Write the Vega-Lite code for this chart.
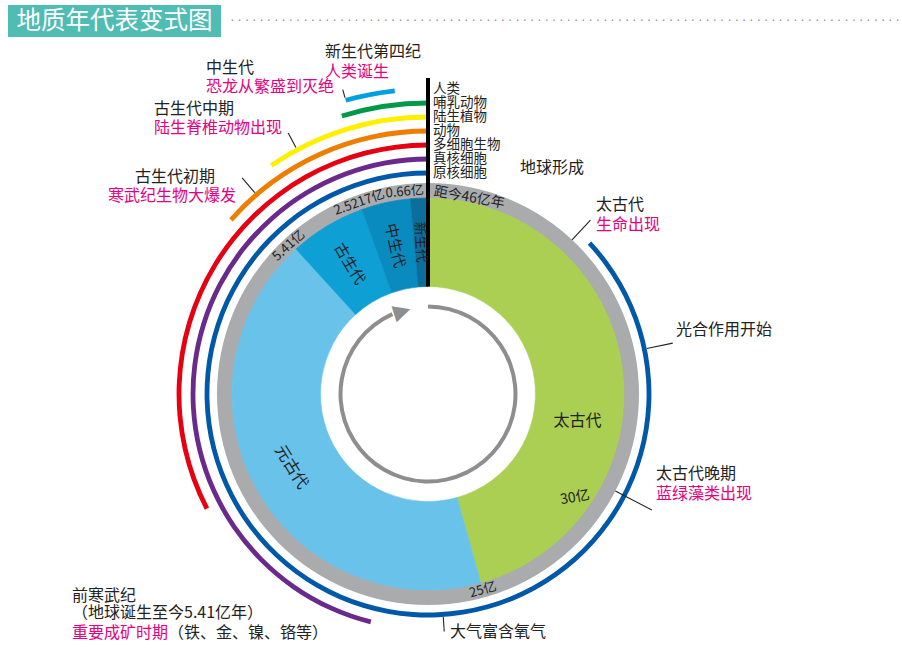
{
  "$schema": "https://vega.github.io/schema/vega-lite/v6.json",
  "background": "white",
  "padding": {"left": 8, "top": 5, "right": 0, "bottom": 0},
  "config": {"view": {"stroke": null}, "text": {"font": "Noto Sans CJK SC", "color": "#222222"}},
  "datasets": {
    "ring": [{"from": 46, "to": 0}],
    "eras": [
      {"era": "太古代", "from": 46, "to": 25},
      {"era": "元古代", "from": 25, "to": 5.41},
      {"era": "古生代", "from": 5.41, "to": 2.5217},
      {"era": "中生代", "from": 2.5217, "to": 0.66},
      {"era": "新生代", "from": 0.66, "to": 0}
    ],
    "eraLabels": [
      {"era": "太古代", "ago": 33.2},
      {"era": "元古代", "ago": 15.1},
      {"era": "古生代", "ago": 3.97},
      {"era": "中生代", "ago": 1.6},
      {"era": "新生代", "ago": 0.38}
    ],
    "life": [
      {"name": "原核细胞", "from": 40, "to": 0},
      {"name": "真核细胞", "from": 21.2, "to": 0},
      {"name": "多细胞生物", "from": 15, "to": 0},
      {"name": "动物", "from": 6.2, "to": 0},
      {"name": "陆生植物", "from": 4.4, "to": 0},
      {"name": "哺乳动物", "from": 2.2, "to": 0},
      {"name": "恐龙", "from": 2.0, "to": 0.8}
    ],
    "lists": [{"ago": 0, "lines": ["人类", "哺乳动物", "陆生植物", "动物", "多细胞生物", "真核细胞", "原核细胞"]}],
    "axis": [{"ago": 0}],
    "cycle": [{"from": 46, "to": 3.07}],
    "arrowhead": [{"ago": 2.24, "glyph": "▶"}],
    "ticks": [
      {"t": "距今46亿年", "ago": 46},
      {"t": "0.66亿", "ago": 0.66},
      {"t": "2.5217亿", "ago": 2.5217},
      {"t": "5.41亿", "ago": 5.41},
      {"t": "25亿", "ago": 25},
      {"t": "30亿", "ago": 30}
    ],
    "notes": [
      {"id": "quaternary", "ago": 0, "title": "新生代第四纪", "desc": "人类诞生"},
      {"id": "mesozoic", "ago": 2.0, "title": "中生代", "desc": "恐龙从繁盛到灭绝"},
      {"id": "devonian", "ago": 3.6, "title": "古生代中期", "desc": "陆生脊椎动物出现"},
      {"id": "cambrian", "ago": 5.2, "title": "古生代初期", "desc": "寒武纪生物大爆发"},
      {"id": "earth", "ago": 46, "title": "地球形成"},
      {"id": "life", "ago": 40.5, "title": "太古代", "desc": "生命出现"},
      {"id": "photo", "ago": 36, "title": "光合作用开始"},
      {"id": "algae", "ago": 31, "title": "太古代晚期", "desc": "蓝绿藻类出现"},
      {"id": "oxygen", "ago": 23.5, "title": "大气富含氧气"},
      {"id": "precambrian", "ago": 23, "title": "前寒武纪", "sub": "（地球诞生至今5.41亿年）", "desc": "重要成矿时期", "note": "（铁、金、镍、铬等）"}
    ]
  },
  "vconcat": [
    {
      "hconcat": [
        {
          "width": 213, "height": 32,
          "view": {"fill": "#4FBDB3", "stroke": null},
          "data": {"values": [{"t": "地质年代表变式图"}]},
          "mark": {"type": "text", "color": "white", "fontSize": 24.5, "align": "center", "baseline": "middle", "dy": 1},
          "encoding": {"text": {"field": "t"}}
        },
        {
          "width": 670, "height": 32,
          "data": {"values": [{"t": "· · · · · · · · · · · · · · · · · · · · · · · · · · · · · · · · · · · · · · · · · · · · · · · · · · · · · · · · · · · · · · · · · · · · · · · · · · · · · · · · · · · · · · · · · · · ·"}]},
          "mark": {"type": "text", "font": "DejaVu Sans", "fontSize": 11.5, "color": "#888888", "align": "center", "baseline": "middle", "dy": 1},
          "encoding": {"text": {"field": "t"}}
        }
      ],
      "spacing": 9
    },
    {
      "width": 840, "height": 514,
      "layer": [
        {"data": {"name": "ring"}, "mark": {"type": "arc", "radius": 211, "radius2": 195.5, "color": "#A9ABAD"},
         "encoding": {"theta": {"field": "from", "type": "quantitative", "stack": null, "scale": {"domain": [46, 0], "range": [0, 6.283185307179586]}}, "theta2": {"field": "to"}}},
        {"data": {"name": "eras"}, "mark": {"type": "arc", "radius": 196, "radius2": 107.5, "strokeWidth": 0.6},
         "encoding": {
           "theta": {"field": "from", "type": "quantitative", "stack": null, "scale": {"domain": [46, 0], "range": [0, 6.283185307179586]}},
           "theta2": {"field": "to"},
           "color": {"field": "era", "type": "nominal", "legend": null, "scale": {"domain": ["太古代", "元古代", "古生代", "中生代", "新生代"], "range": ["#AACF52", "#68C2EA", "#0EA0D5", "#0A8BC0", "#0B6E9B"]}},
           "stroke": {"field": "era", "type": "nominal", "legend": null, "scale": {"domain": ["太古代", "元古代", "古生代", "中生代", "新生代"], "range": ["#AACF52", "#68C2EA", "#0EA0D5", "#0A8BC0", "#0B6E9B"]}}
         }},
        {"data": {"name": "cycle"}, "mark": {"type": "arc", "radius": 89.5, "radius2": 85.5, "color": "#8E8E8E"},
         "encoding": {"theta": {"field": "from", "type": "quantitative", "stack": null, "scale": {"domain": [46, 0], "range": [0, 6.283185307179586]}}, "theta2": {"field": "to"}}},
        {"data": {"name": "arrowhead"}, "mark": {"type": "text", "radius": 87.5, "angle": 342.5, "font": "DejaVu Sans", "fontSize": 22, "color": "#8E8E8E", "align": "center", "baseline": "middle"},
         "encoding": {"theta": {"field": "ago", "type": "quantitative", "scale": {"domain": [46, 0], "range": [0, 6.283185307179586]}}, "text": {"field": "glyph"}}},

        {"data": {"name": "life"}, "transform": [{"filter": {"field": "name", "equal": "原核细胞"}}], "mark": {"type": "arc", "radius": 223.4, "radius2": 218.6, "color": "#0058A8"},
         "encoding": {"theta": {"field": "from", "type": "quantitative", "stack": null, "scale": {"domain": [46, 0], "range": [0, 6.283185307179586]}}, "theta2": {"field": "to"}}},
        {"data": {"name": "life"}, "transform": [{"filter": {"field": "name", "equal": "真核细胞"}}], "mark": {"type": "arc", "radius": 237.4, "radius2": 232.6, "color": "#6A2A8C"},
         "encoding": {"theta": {"field": "from", "type": "quantitative", "stack": null, "scale": {"domain": [46, 0], "range": [0, 6.283185307179586]}}, "theta2": {"field": "to"}}},
        {"data": {"name": "life"}, "transform": [{"filter": {"field": "name", "equal": "多细胞生物"}}], "mark": {"type": "arc", "radius": 251.4, "radius2": 246.6, "color": "#E50012"},
         "encoding": {"theta": {"field": "from", "type": "quantitative", "stack": null, "scale": {"domain": [46, 0], "range": [0, 6.283185307179586]}}, "theta2": {"field": "to"}}},
        {"data": {"name": "life"}, "transform": [{"filter": {"field": "name", "equal": "动物"}}], "mark": {"type": "arc", "radius": 265.4, "radius2": 260.6, "color": "#EF7D00"},
         "encoding": {"theta": {"field": "from", "type": "quantitative", "stack": null, "scale": {"domain": [46, 0], "range": [0, 6.283185307179586]}}, "theta2": {"field": "to"}}},
        {"data": {"name": "life"}, "transform": [{"filter": {"field": "name", "equal": "陆生植物"}}], "mark": {"type": "arc", "radius": 279.4, "radius2": 274.6, "color": "#FFF000"},
         "encoding": {"theta": {"field": "from", "type": "quantitative", "stack": null, "scale": {"domain": [46, 0], "range": [0, 6.283185307179586]}}, "theta2": {"field": "to"}}},
        {"data": {"name": "life"}, "transform": [{"filter": {"field": "name", "equal": "哺乳动物"}}], "mark": {"type": "arc", "radius": 293.4, "radius2": 288.6, "color": "#00994A"},
         "encoding": {"theta": {"field": "from", "type": "quantitative", "stack": null, "scale": {"domain": [46, 0], "range": [0, 6.283185307179586]}}, "theta2": {"field": "to"}}},
        {"data": {"name": "life"}, "transform": [{"filter": {"field": "name", "equal": "恐龙"}}], "mark": {"type": "arc", "radius": 307.4, "radius2": 302.6, "color": "#00A0E0"},
         "encoding": {"theta": {"field": "from", "type": "quantitative", "stack": null, "scale": {"domain": [46, 0], "range": [0, 6.283185307179586]}}, "theta2": {"field": "to"}}},

        {"data": {"name": "axis"}, "mark": {"type": "arc", "radius": 316, "radius2": 107.5, "fill": "black", "stroke": "black", "strokeWidth": 4},
         "encoding": {"theta": {"field": "ago", "type": "quantitative", "stack": null, "scale": {"domain": [46, 0], "range": [0, 6.283185307179586]}}, "theta2": {"field": "ago"}}},

        {"data": {"name": "notes"}, "transform": [{"filter": {"field": "id", "equal": "mesozoic"}}], "mark": {"type": "arc", "radius": 316, "radius2": 307.7, "stroke": "#222222", "strokeWidth": 1.1},
         "encoding": {"theta": {"field": "ago", "type": "quantitative", "stack": null, "scale": {"domain": [46, 0], "range": [0, 6.283185307179586]}}, "theta2": {"field": "ago"}}},
        {"data": {"name": "notes"}, "transform": [{"filter": {"field": "id", "equal": "devonian"}}], "mark": {"type": "arc", "radius": 296, "radius2": 279.7, "stroke": "#222222", "strokeWidth": 1.1},
         "encoding": {"theta": {"field": "ago", "type": "quantitative", "stack": null, "scale": {"domain": [46, 0], "range": [0, 6.283185307179586]}}, "theta2": {"field": "ago"}}},
        {"data": {"name": "notes"}, "transform": [{"filter": {"field": "id", "equal": "cambrian"}}], "mark": {"type": "arc", "radius": 285, "radius2": 265.7, "stroke": "#222222", "strokeWidth": 1.1},
         "encoding": {"theta": {"field": "ago", "type": "quantitative", "stack": null, "scale": {"domain": [46, 0], "range": [0, 6.283185307179586]}}, "theta2": {"field": "ago"}}},
        {"data": {"name": "notes"}, "transform": [{"filter": {"field": "id", "equal": "life"}}], "mark": {"type": "arc", "radius": 238, "radius2": 211, "stroke": "#222222", "strokeWidth": 1.1},
         "encoding": {"theta": {"field": "ago", "type": "quantitative", "stack": null, "scale": {"domain": [46, 0], "range": [0, 6.283185307179586]}}, "theta2": {"field": "ago"}}},
        {"data": {"name": "notes"}, "transform": [{"filter": {"field": "id", "equal": "photo"}}], "mark": {"type": "arc", "radius": 250, "radius2": 223.5, "stroke": "#222222", "strokeWidth": 1.1},
         "encoding": {"theta": {"field": "ago", "type": "quantitative", "stack": null, "scale": {"domain": [46, 0], "range": [0, 6.283185307179586]}}, "theta2": {"field": "ago"}}},
        {"data": {"name": "notes"}, "transform": [{"filter": {"field": "id", "equal": "algae"}}], "mark": {"type": "arc", "radius": 252, "radius2": 211, "stroke": "#222222", "strokeWidth": 1.1},
         "encoding": {"theta": {"field": "ago", "type": "quantitative", "stack": null, "scale": {"domain": [46, 0], "range": [0, 6.283185307179586]}}, "theta2": {"field": "ago"}}},
        {"data": {"name": "notes"}, "transform": [{"filter": {"field": "id", "equal": "oxygen"}}], "mark": {"type": "arc", "radius": 238, "radius2": 223.5, "stroke": "#222222", "strokeWidth": 1.1},
         "encoding": {"theta": {"field": "ago", "type": "quantitative", "stack": null, "scale": {"domain": [46, 0], "range": [0, 6.283185307179586]}}, "theta2": {"field": "ago"}}},

        {"data": {"name": "eraLabels"}, "transform": [{"filter": {"field": "era", "equal": "太古代"}}], "mark": {"type": "text", "radius": 152, "angle": 0, "fontSize": 16, "align": "center", "baseline": "middle"},
         "encoding": {"theta": {"field": "ago", "type": "quantitative", "scale": {"domain": [46, 0], "range": [0, 6.283185307179586]}}, "text": {"field": "era"}}},
        {"data": {"name": "eraLabels"}, "transform": [{"filter": {"field": "era", "equal": "元古代"}}], "mark": {"type": "text", "radius": 155, "angle": 58, "fontSize": 16, "align": "center", "baseline": "middle"},
         "encoding": {"theta": {"field": "ago", "type": "quantitative", "scale": {"domain": [46, 0], "range": [0, 6.283185307179586]}}, "text": {"field": "era"}}},
        {"data": {"name": "eraLabels"}, "transform": [{"filter": {"field": "era", "equal": "古生代"}}], "mark": {"type": "text", "radius": 152, "angle": 59, "fontSize": 15, "align": "center", "baseline": "middle"},
         "encoding": {"theta": {"field": "ago", "type": "quantitative", "scale": {"domain": [46, 0], "range": [0, 6.283185307179586]}}, "text": {"field": "era"}}},
        {"data": {"name": "eraLabels"}, "transform": [{"filter": {"field": "era", "equal": "中生代"}}], "mark": {"type": "text", "radius": 152, "angle": 77.5, "fontSize": 15, "align": "center", "baseline": "middle"},
         "encoding": {"theta": {"field": "ago", "type": "quantitative", "scale": {"domain": [46, 0], "range": [0, 6.283185307179586]}}, "text": {"field": "era"}}},
        {"data": {"name": "eraLabels"}, "transform": [{"filter": {"field": "era", "equal": "新生代"}}], "mark": {"type": "text", "radius": 152, "angle": 87, "fontSize": 13.5, "align": "center", "baseline": "middle"},
         "encoding": {"theta": {"field": "ago", "type": "quantitative", "scale": {"domain": [46, 0], "range": [0, 6.283185307179586]}}, "text": {"field": "era"}}},

        {"data": {"name": "ticks"}, "transform": [{"filter": {"field": "t", "equal": "距今46亿年"}}], "mark": {"type": "text", "radius": 203.5, "angle": 10, "dx": 6, "fontSize": 14, "align": "left", "baseline": "middle"},
         "encoding": {"theta": {"field": "ago", "type": "quantitative", "scale": {"domain": [46, 0], "range": [0, 6.283185307179586]}}, "text": {"field": "t"}}},
        {"data": {"name": "ticks"}, "transform": [{"filter": {"field": "t", "equal": "0.66亿"}}], "mark": {"type": "text", "radius": 203.5, "angle": -5.2, "dx": -5, "fontSize": 13, "align": "center", "baseline": "middle"},
         "encoding": {"theta": {"field": "ago", "type": "quantitative", "scale": {"domain": [46, 0], "range": [0, 6.283185307179586]}}, "text": {"field": "t"}}},
        {"data": {"name": "ticks"}, "transform": [{"filter": {"field": "t", "equal": "2.5217亿"}}], "mark": {"type": "text", "radius": 203.5, "angle": -19.7, "fontSize": 13, "align": "center", "baseline": "middle"},
         "encoding": {"theta": {"field": "ago", "type": "quantitative", "scale": {"domain": [46, 0], "range": [0, 6.283185307179586]}}, "text": {"field": "t"}}},
        {"data": {"name": "ticks"}, "transform": [{"filter": {"field": "t", "equal": "5.41亿"}}], "mark": {"type": "text", "radius": 203.5, "angle": -42.3, "dx": -3, "fontSize": 13, "align": "center", "baseline": "middle"},
         "encoding": {"theta": {"field": "ago", "type": "quantitative", "scale": {"domain": [46, 0], "range": [0, 6.283185307179586]}}, "text": {"field": "t"}}},
        {"data": {"name": "ticks"}, "transform": [{"filter": {"field": "t", "equal": "25亿"}}], "mark": {"type": "text", "radius": 203.5, "angle": -15.7, "fontSize": 13, "align": "center", "baseline": "middle"},
         "encoding": {"theta": {"field": "ago", "type": "quantitative", "scale": {"domain": [46, 0], "range": [0, 6.283185307179586]}}, "text": {"field": "t"}}},
        {"data": {"name": "ticks"}, "transform": [{"filter": {"field": "t", "equal": "30亿"}}], "mark": {"type": "text", "radius": 180, "angle": -10, "fontSize": 14, "align": "center", "baseline": "middle"},
         "encoding": {"theta": {"field": "ago", "type": "quantitative", "scale": {"domain": [46, 0], "range": [0, 6.283185307179586]}}, "text": {"field": "t"}}},

        {"data": {"name": "lists"}, "mark": {"type": "text", "radius": 305, "dx": 5, "fontSize": 13.5, "lineHeight": 14, "align": "left", "baseline": "middle"},
         "encoding": {"theta": {"field": "ago", "type": "quantitative", "scale": {"domain": [46, 0], "range": [0, 6.283185307179586]}}, "text": {"field": "lines"}}},

        {"data": {"name": "notes"}, "transform": [{"filter": {"field": "id", "equal": "quaternary"}}], "mark": {"type": "text", "radius": 342, "dx": -103, "fontSize": 16, "align": "left", "baseline": "middle"},
         "encoding": {"theta": {"field": "ago", "type": "quantitative", "scale": {"domain": [46, 0], "range": [0, 6.283185307179586]}}, "text": {"field": "title"}}},
        {"data": {"name": "notes"}, "transform": [{"filter": {"field": "id", "equal": "quaternary"}}], "mark": {"type": "text", "radius": 322, "dx": -103, "fontSize": 16, "align": "left", "baseline": "middle", "color": "#E4007F"},
         "encoding": {"theta": {"field": "ago", "type": "quantitative", "scale": {"domain": [46, 0], "range": [0, 6.283185307179586]}}, "text": {"field": "desc"}}},

        {"data": {"name": "notes"}, "transform": [{"filter": {"field": "id", "equal": "mesozoic"}}], "mark": {"type": "text", "radius": 318, "dx": -136.2, "dy": -19.8, "fontSize": 16, "align": "left", "baseline": "middle"},
         "encoding": {"theta": {"field": "ago", "type": "quantitative", "scale": {"domain": [46, 0], "range": [0, 6.283185307179586]}}, "text": {"field": "title"}}},
        {"data": {"name": "notes"}, "transform": [{"filter": {"field": "id", "equal": "mesozoic"}}], "mark": {"type": "text", "radius": 318, "dx": -8.2, "dy": -0.8, "fontSize": 16, "align": "right", "baseline": "middle", "color": "#E4007F"},
         "encoding": {"theta": {"field": "ago", "type": "quantitative", "scale": {"domain": [46, 0], "range": [0, 6.283185307179586]}}, "text": {"field": "desc"}}},

        {"data": {"name": "notes"}, "transform": [{"filter": {"field": "id", "equal": "devonian"}}], "mark": {"type": "text", "radius": 298, "dx": -133.3, "dy": -22.3, "fontSize": 16, "align": "left", "baseline": "middle"},
         "encoding": {"theta": {"field": "ago", "type": "quantitative", "scale": {"domain": [46, 0], "range": [0, 6.283185307179586]}}, "text": {"field": "title"}}},
        {"data": {"name": "notes"}, "transform": [{"filter": {"field": "id", "equal": "devonian"}}], "mark": {"type": "text", "radius": 298, "dx": -5.3, "dy": -3.3, "fontSize": 16, "align": "right", "baseline": "middle", "color": "#E4007F"},
         "encoding": {"theta": {"field": "ago", "type": "quantitative", "scale": {"domain": [46, 0], "range": [0, 6.283185307179586]}}, "text": {"field": "desc"}}},

        {"data": {"name": "notes"}, "transform": [{"filter": {"field": "id", "equal": "cambrian"}}], "mark": {"type": "text", "radius": 285, "dx": -107.1, "dy": -1, "fontSize": 16, "align": "left", "baseline": "middle"},
         "encoding": {"theta": {"field": "ago", "type": "quantitative", "scale": {"domain": [46, 0], "range": [0, 6.283185307179586]}}, "text": {"field": "title"}}},
        {"data": {"name": "notes"}, "transform": [{"filter": {"field": "id", "equal": "cambrian"}}], "mark": {"type": "text", "radius": 285, "dx": -6.1, "dy": 18, "fontSize": 16, "align": "right", "baseline": "middle", "color": "#E4007F"},
         "encoding": {"theta": {"field": "ago", "type": "quantitative", "scale": {"domain": [46, 0], "range": [0, 6.283185307179586]}}, "text": {"field": "desc"}}},

        {"data": {"name": "notes"}, "transform": [{"filter": {"field": "id", "equal": "earth"}}], "mark": {"type": "text", "radius": 211, "dx": 92, "dy": -15, "fontSize": 16, "align": "left", "baseline": "middle"},
         "encoding": {"theta": {"field": "ago", "type": "quantitative", "scale": {"domain": [46, 0], "range": [0, 6.283185307179586]}}, "text": {"field": "title"}}},

        {"data": {"name": "notes"}, "transform": [{"filter": {"field": "id", "equal": "life"}}], "mark": {"type": "text", "radius": 238, "dx": 5.6, "dy": -15, "fontSize": 16, "align": "left", "baseline": "middle"},
         "encoding": {"theta": {"field": "ago", "type": "quantitative", "scale": {"domain": [46, 0], "range": [0, 6.283185307179586]}}, "text": {"field": "title"}}},
        {"data": {"name": "notes"}, "transform": [{"filter": {"field": "id", "equal": "life"}}], "mark": {"type": "text", "radius": 238, "dx": 5.6, "dy": 5, "fontSize": 16, "align": "left", "baseline": "middle", "color": "#E4007F"},
         "encoding": {"theta": {"field": "ago", "type": "quantitative", "scale": {"domain": [46, 0], "range": [0, 6.283185307179586]}}, "text": {"field": "desc"}}},

        {"data": {"name": "notes"}, "transform": [{"filter": {"field": "id", "equal": "photo"}}], "mark": {"type": "text", "radius": 250, "dx": 3.2, "dy": -13.1, "fontSize": 16, "align": "left", "baseline": "middle"},
         "encoding": {"theta": {"field": "ago", "type": "quantitative", "scale": {"domain": [46, 0], "range": [0, 6.283185307179586]}}, "text": {"field": "title"}}},

        {"data": {"name": "notes"}, "transform": [{"filter": {"field": "id", "equal": "algae"}}], "mark": {"type": "text", "radius": 252, "dx": 4.2, "dy": -36, "fontSize": 16, "align": "left", "baseline": "middle"},
         "encoding": {"theta": {"field": "ago", "type": "quantitative", "scale": {"domain": [46, 0], "range": [0, 6.283185307179586]}}, "text": {"field": "title"}}},
        {"data": {"name": "notes"}, "transform": [{"filter": {"field": "id", "equal": "algae"}}], "mark": {"type": "text", "radius": 252, "dx": 4.2, "dy": -16, "fontSize": 16, "align": "left", "baseline": "middle", "color": "#E4007F"},
         "encoding": {"theta": {"field": "ago", "type": "quantitative", "scale": {"domain": [46, 0], "range": [0, 6.283185307179586]}}, "text": {"field": "desc"}}},

        {"data": {"name": "notes"}, "transform": [{"filter": {"field": "id", "equal": "oxygen"}}], "mark": {"type": "text", "radius": 238, "dx": 5.8, "dy": 0.5, "fontSize": 16, "align": "left", "baseline": "middle"},
         "encoding": {"theta": {"field": "ago", "type": "quantitative", "scale": {"domain": [46, 0], "range": [0, 6.283185307179586]}}, "text": {"field": "title"}}},

        {"data": {"name": "notes"}, "transform": [{"filter": {"field": "id", "equal": "precambrian"}}], "mark": {"type": "text", "radius": 220, "dx": -356, "dy": -18, "fontSize": 16, "align": "left", "baseline": "middle"},
         "encoding": {"theta": {"field": "ago", "type": "quantitative", "scale": {"domain": [46, 0], "range": [0, 6.283185307179586]}}, "text": {"field": "title"}}},
        {"data": {"name": "notes"}, "transform": [{"filter": {"field": "id", "equal": "precambrian"}}], "mark": {"type": "text", "radius": 220, "dx": -356, "dy": -1, "fontSize": 16, "align": "left", "baseline": "middle"},
         "encoding": {"theta": {"field": "ago", "type": "quantitative", "scale": {"domain": [46, 0], "range": [0, 6.283185307179586]}}, "text": {"field": "sub"}}},
        {"data": {"name": "notes"}, "transform": [{"filter": {"field": "id", "equal": "precambrian"}}], "mark": {"type": "text", "radius": 220, "dx": -356, "dy": 19, "fontSize": 16, "align": "left", "baseline": "middle", "color": "#E4007F"},
         "encoding": {"theta": {"field": "ago", "type": "quantitative", "scale": {"domain": [46, 0], "range": [0, 6.283185307179586]}}, "text": {"field": "desc"}}},
        {"data": {"name": "notes"}, "transform": [{"filter": {"field": "id", "equal": "precambrian"}}], "mark": {"type": "text", "radius": 220, "dx": -260, "dy": 19, "fontSize": 16, "align": "left", "baseline": "middle"},
         "encoding": {"theta": {"field": "ago", "type": "quantitative", "scale": {"domain": [46, 0], "range": [0, 6.283185307179586]}}, "text": {"field": "note"}}}
      ]
    }
  ],
  "spacing": 132,
  "bounds": "flush"
}
